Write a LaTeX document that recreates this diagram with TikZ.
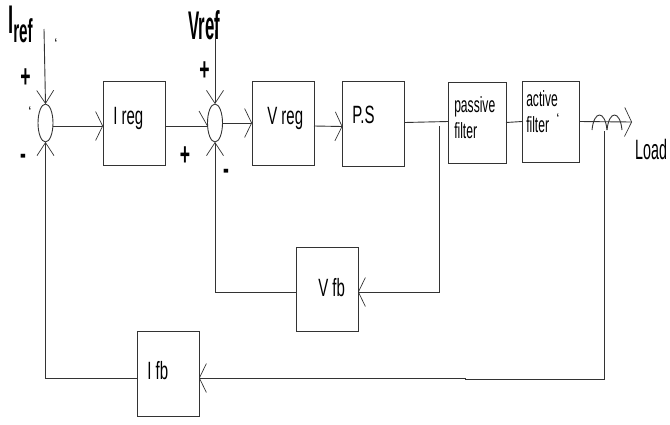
\documentclass[tikz,border=0pt]{standalone}
\usepackage{fontspec}
\setmainfont{Liberation Sans}
\usetikzlibrary{positioning, arrows.meta, shapes.geometric}

\begin{document}
\begin{tikzpicture}[
    x=1pt, y=-1pt,
    line width=0.9pt,
    draw=black!80,
    block/.style={rectangle, draw=black!80, inner sep=0pt, outer sep=0pt, minimum width=#1},
    block/.default=62pt,
    sumnode/.style={ellipse, draw=black!80, inner sep=0pt, outer sep=0pt, minimum width=15pt, minimum height=38pt},
    lbl/.style={font=\fontsize{#1}{#1}\selectfont, inner sep=0pt, anchor=base west, xscale=0.6, transform shape},
    lbl/.default=25,
    small/.style={font=\fontsize{22}{26}\selectfont, inner sep=0pt, anchor=base west, xscale=0.55, transform shape, align=left},
    sign/.style={font=\fontsize{32}{32}\selectfont\bfseries, inner sep=0pt, xscale=0.55, transform shape},
    tick/.style={font=\fontsize{14}{14}\selectfont, inner sep=0pt},
    arr/.style={-{Straight Barb[length=7pt, width=29pt, line width=0.7pt]}},
    arrv/.style={-{Straight Barb[length=13pt, width=17pt, line width=0.7pt]}},
]
    \useasboundingbox (0,0) rectangle (670,424);

    % forward path
    \node[sumnode] (sumi) at (45.5,123) {};
    \node[block, minimum height=84pt] (ireg) at (134,123) {};
    \node[sumnode] (sumv) at (215,123) {};
    \node[block, minimum height=84pt] (vreg) at (283,123) {};
    \node[block, minimum height=85pt] (ps) at (373.5,123.5) {};
    \node[block=58pt, minimum height=81pt] (pfilter) at (477,122.5) {};
    \node[block=57pt, minimum height=81pt] (afilter) at (550.5,121.5) {};

    % feedback blocks
    \node[block, minimum height=84pt] (vfb) at (327,289) {};
    \node[block, minimum height=85pt] (ifb) at (168,373.5) {};

    % texts in the blocks
    \node[lbl] (ireglbl) at (113,124) {I reg};
    \node[lbl] (vreglbl) at (267,124) {V reg};
    \node[lbl] (pslbl) at (352,123) {P.S};
    \node[small] (pfilterlbl) at (454,138) {passive\\filter};
    \node[small] (afilterlbl) at (526,132) {active\\filter};
    \node[lbl] (vfblbl) at (318,296) {V fb};
    \node[lbl] (ifblbl) at (147,379) {I fb};
    \node[lbl=28, xscale=0.85] (load) at (635,159) {Load};

    % references and signs
    \node[font=\fontsize{40}{40}\selectfont\bfseries, inner sep=0pt, anchor=base west, xscale=0.46, transform shape] (iref) at (8,33) {I\raisebox{-9pt}{\fontsize{33}{33}\selectfont ref}};
    \node[font=\fontsize{40}{40}\selectfont\bfseries, inner sep=0pt, anchor=base west, xscale=0.42, transform shape] (vref) at (188,39) {Vref};
    \node[sign] (plusa) at (25.5,78) {+};
    \node[sign] (plusb) at (204.5,71) {+};
    \node[sign] (plusc) at (185,156) {+};
    \node[sign] (minusa) at (23,159) {-};
    \node[sign] (minusb) at (226,174) {-};
    \node[tick] (ticka) at (56,44) {`};
    \node[tick] (tickb) at (30,112) {`};
    \node[tick] (tickc) at (558,119) {`};

    % free ends
    \coordinate (irefin) at (44,29);
    \coordinate (vrefin) at (215,30);
    \coordinate (out) at (632,122);
    \coordinate (vtap) at (439,126);
    \coordinate (itap) at (604,131);
    \coordinate (ijoga) at (604,379);
    \coordinate (ijogb) at (465,379);
    \coordinate (ijogc) at (465,378);
    \coordinate (barbend) at (199,111);

    \draw[arrv] (irefin) -- (sumi.north);
    \draw[arrv] (vrefin) -- (sumv.north);
    \draw[arr] ([yshift=-3pt]sumi.east) -- ([yshift=-3pt]ireg.west);
    \draw ([yshift=-3pt]ireg.east) -- ([yshift=-3pt]sumv.west);
    \draw[line width=0.7pt] ([yshift=-3pt]sumv.west) -- (barbend);
    \draw[arr] (sumv.east) -- (vreg.west);
    \draw[arr] ([yshift=-3pt]vreg.east) -- ([yshift=-3pt]ps.west);
    \draw ([yshift=1pt]ps.east) -- ([yshift=1pt]pfilter.west);
    \draw (pfilter.east) -- (afilter.east -| afilter.west);
    \draw[arr] (afilter.east) -- (out);

    % current sensing coil
    \draw (592,130) .. controls (594,110) and (605,110) .. (607,130);
    \draw (607,130) .. controls (609,110) and (620,110) .. (622,130);

    % feedback paths
    \draw[arr] (vtap) |- ([yshift=-3pt]vfb.east);
    \draw[arrv] ([yshift=-3pt]vfb.west) -| (sumv.south);
    \draw (itap) -- (ijoga) -- (ijogb) -- (ijogc);
    \draw[arr] (ijogc) -- ([yshift=-4.5pt]ifb.east);
    \draw[arrv] ([yshift=-4.5pt]ifb.west) -| (sumi.south);
\end{tikzpicture}
\end{document}
